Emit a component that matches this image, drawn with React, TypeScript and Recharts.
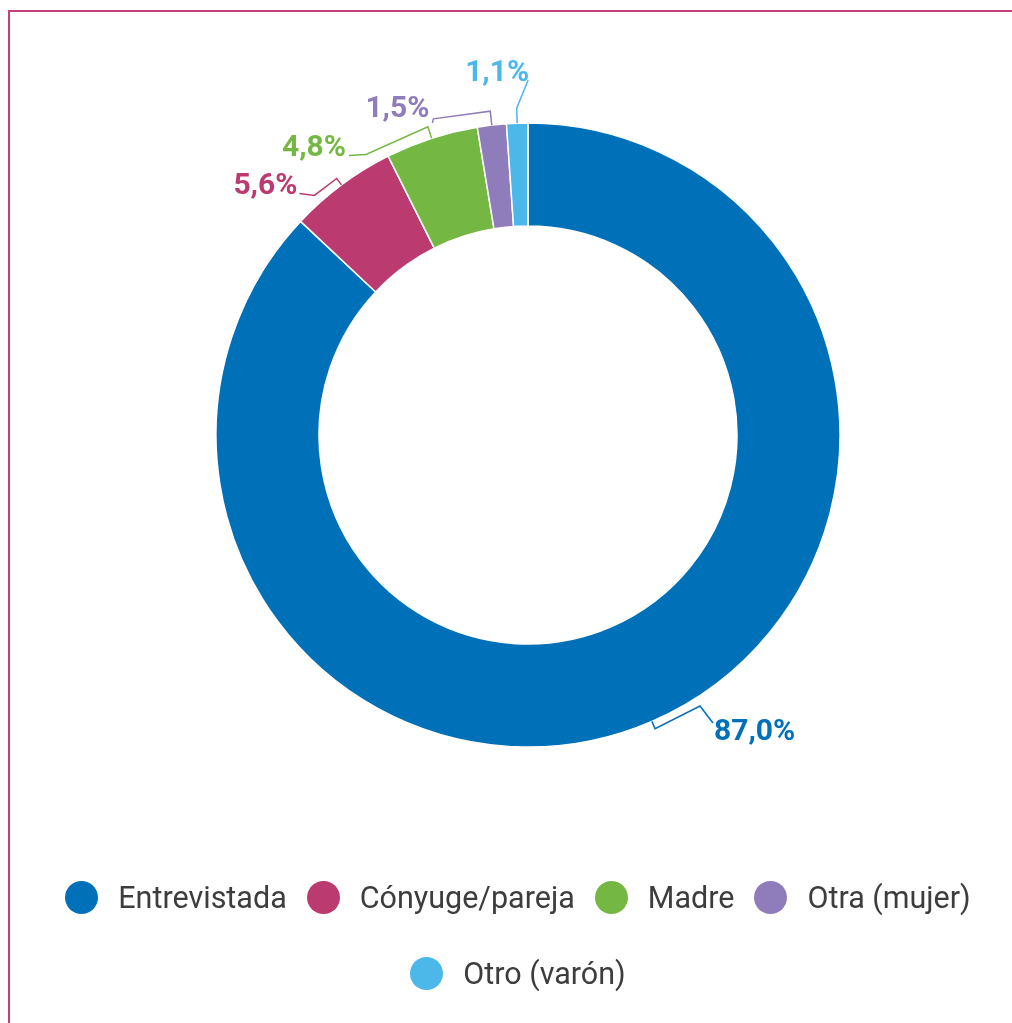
import React from "react";
import { PieChart, Pie, Cell, Legend } from "recharts";

const categories = ["Entrevistada", "Cónyuge/pareja", "Madre", "Otra (mujer)", "Otro (varón)"];
const values = [87.0, 5.6, 4.8, 1.5, 1.1];
const valueLabels = ["87,0%", "5,6%", "4,8%", "1,5%", "1,1%"];
const colors = ["#0070b8", "#bb3a6f", "#74b843", "#8f7cba", "#4bb8e9"];

// label leader layout: radial ext of tick, radial ext of elbow, angle shift, hook, label offset
const labelLayout = [
  { e1: 8, e2: 9, dA: 9, hx: 13, hy: 17, lx: 1, ly: 6, anchor: "start" },
  { e1: 8, e2: 9, dA: 5, hx: -15, hy: -2, lx: -2, ly: -10, anchor: "end" },
  { e1: 12, e2: 12, dA: 12, hx: -17, hy: 1, lx: -3, ly: -10, anchor: "end" },
  { e1: 14, e2: 18, dA: 10, hx: -1, hy: 4, lx: -3, ly: -16, anchor: "end" },
  { e1: 15, e2: 43, dA: -2, hx: 0, hy: 0, lx: 1, ly: -10, anchor: "end" },
];

const data = categories.map((name, i) => ({ name, value: values[i], label: valueLabels[i] }));

const RAD = Math.PI / 180;
const pt = (cx: number, cy: number, r: number, a: number) => [cx + r * Math.cos(a * RAD), cy - r * Math.sin(a * RAD)];

const renderLabel = (props: any) => {
  const { cx, cy, midAngle, outerRadius, index } = props;
  const L = labelLayout[index];
  const p0 = pt(cx, cy, outerRadius, midAngle);
  const p1 = pt(cx, cy, outerRadius + L.e1, midAngle);
  const p2 = pt(cx, cy, outerRadius + L.e2, midAngle + L.dA);
  const p3 = [p2[0] + L.hx, p2[1] + L.hy];
  const color = colors[index];
  return (
    <g key={`lbl-${index}`}>
      <polyline
        points={[p0, p1, p2, p3].map((p) => p.join(",")).join(" ")}
        fill="none"
        stroke={color}
        strokeWidth={1.5}
      />
      <text
        x={p3[0] + L.lx}
        y={p3[1] + L.ly}
        textAnchor={L.anchor as any}
        dominantBaseline="central"
        fill={color}
        fontFamily="Roboto, sans-serif"
        fontWeight={700}
        fontSize={30}
      >
        {data[index].label}
      </text>
    </g>
  );
};

const renderLegend = () => (
  <div
    style={{
      display: "flex",
      flexWrap: "wrap",
      justifyContent: "center",
      width: 960,
      fontFamily: "Roboto, sans-serif",
      fontSize: 30.5,
      color: "#3d3d3d",
    }}
  >
    {categories.map((c, i) => (
      <div key={c} style={{ display: "flex", alignItems: "center", height: 76, marginRight: 20 }}>
        <span
          style={{
            display: "inline-block",
            width: 33,
            height: 33,
            borderRadius: "50%",
            background: colors[i],
            marginRight: 20,
          }}
        />
        <span>{c}</span>
      </div>
    ))}
  </div>
);

export default function App() {
  return (
    <div style={{ position: "relative", width: 996, height: 1000, overflow: "visible" }}>
      <div
        style={{
          position: "fixed",
          top: 10,
          left: 8,
          width: 1004,
          height: 1013,
          borderTop: "2px solid #c0407a",
          borderLeft: "2px solid #c0407a",
          boxSizing: "border-box",
        }}
      />
      <div style={{ position: "fixed", top: 8, left: 8 }}>
        <PieChart width={1004} height={1007}>
          <Pie
            data={data}
            dataKey="value"
            nameKey="name"
            cx={515}
            cy={422}
            innerRadius={209}
            outerRadius={312}
            startAngle={90}
            endAngle={-270}
            stroke="#ffffff"
            strokeWidth={1.5}
            label={renderLabel}
            labelLine={false}
            isAnimationActive={false}
          >
            {data.map((d, i) => (
              <Cell key={d.name} fill={colors[i]} />
            ))}
          </Pie>
          <Legend
            content={renderLegend}
            wrapperStyle={{ position: "absolute", top: 851, left: 40, width: 960 }}
          />
        </PieChart>
      </div>
    </div>
  );
}
